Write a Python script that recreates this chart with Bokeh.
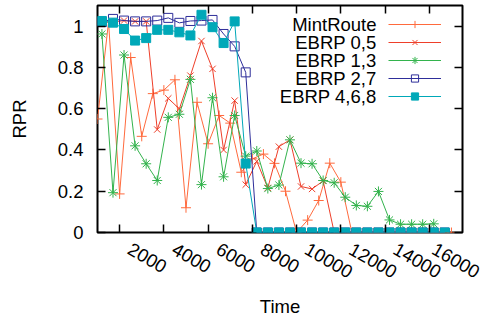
import math
from bokeh.plotting import figure
from bokeh.models import Range1d, FixedTicker, LinearAxis, Legend, LegendItem, Label
from bokeh.core.properties import value
from bokeh.embed import file_html
from bokeh.resources import INLINE

# ---------------- data ----------------
time_mint = [1000, 1500, 2000, 2500, 3000, 3500, 4000, 4500, 5000, 5500, 6000,
             6500, 7000, 7500, 8000, 8500, 9000, 9500, 10000, 10500, 11000,
             11500, 12000, 12500, 13000, 13500, 14000, 14500, 15000, 15500,
             16000, 16500, 17000]
mintroute = [0.55, 1.02, 0.187, 0.848, 0.466, 0.673, 0.69, 0.74, 0.12, 0.631,
             0.43, 0.567, 0.53, 0.292, 0.357, 0.38, 0.335, 0.2, 0.0, 0.06,
             0.155, 0.336, 0.244, 0.0, 0.0, 0.0, 0.0, 0.0, 0.0, 0.0, 0.0,
             0.0, 0.0]

time_ebrp = [1200, 1700, 2200, 2700, 3200, 3700, 4200, 4700, 5200, 5700, 6200,
             6700, 7200, 7700, 8200, 8700, 9200, 9700, 10200, 10700, 11200,
             11700, 12200, 12700, 13200, 13700, 14200, 14700, 15200, 15700,
             16200, 16700]
ebrp_05 = [1.02, 1.02, 1.027, 1.023, 1.023, 0.499, 0.65, 0.599, 0.76, 0.928,
           0.793, 0.40, 0.639, 0.232, 0.345, 0.216, 0.416, 0.449, 0.223,
           0.211, 0.25, 0.0, 0.0, 0.0, 0.0, 0.0, 0.0, 0.0, 0.0, 0.0, 0.0, 0.0]

time_ebrp13 = [1200, 1700, 2200, 2700, 3200, 3700, 4200, 4700, 5200, 5700,
               6200, 6700, 7200, 7700, 8200, 8700, 9200, 9700, 10200, 10700,
               11200, 11700, 12200, 12700, 13200, 13700, 14200, 14700, 15200,
               15700, 16200]
ebrp_13 = [0.962, 0.193, 0.86, 0.42, 0.333, 0.252, 0.558, 0.573, 0.742, 0.232,
           0.653, 0.27, 0.567, 0.37, 0.395, 0.213, 0.23, 0.449, 0.336, 0.333,
           0.252, 0.241, 0.171, 0.131, 0.127, 0.199, 0.061, 0.04, 0.04, 0.04,
           0.042]

ebrp_27 = [1.02, 1.035, 1.027, 1.023, 1.023, 1.027, 1.04, 1.016, 1.025, 1.027,
           1.03, 0.962, 0.902, 0.776, 0.0, 0.0, 0.0, 0.0, 0.0, 0.0, 0.0, 0.0,
           0.0, 0.0, 0.0, 0.0, 0.0, 0.0, 0.0, 0.0, 0.0, 0.0]

ebrp_468 = [1.025, 1.017, 0.986, 0.93, 0.942, 0.982, 0.982, 0.97, 0.955, 1.055,
            0.995, 0.918, 1.023, 0.334, 0.0, 0.0, 0.0, 0.0, 0.0, 0.0, 0.0, 0.0,
            0.0, 0.0, 0.0, 0.0, 0.0, 0.0, 0.0, 0.0, 0.0, 0.0]

series_names = ["MintRoute", "EBRP 0,5", "EBRP 1,3", "EBRP 2,7", "EBRP 4,6,8"]
x_ticks = [2000, 4000, 6000, 8000, 10000, 12000, 14000, 16000]
y_ticks = [0, 0.2, 0.4, 0.6, 0.8, 1]
y_tick_labels = ["0", "0.2", "0.4", "0.6", "0.8", "1"]
x_start, x_end = 1000, 17500
y_start, y_end = 0, 1.1

# ---------------- style ----------------
FONT = "Liberation Sans"
FS = "18.5px"
colors = ["#ff6a3d", "#ee3f2a", "#33b34d", "#2e2e9a", "#00a8b8"]

FRAME_W = 365   # plot-area width in px
FRAME_H = 227   # plot-area height in px
LABEL_SHIFT_PX = 10  # rotated tick labels start just right of their tick

p = figure(width=481, height=320, output_backend="svg", toolbar_location=None,
           x_range=Range1d(x_start, x_end), y_range=Range1d(y_start, y_end),
           min_border_left=97, min_border_right=19, min_border_top=5,
           min_border_bottom=88)
p.grid.visible = False
p.outline_line_color = "black"
p.outline_line_width = 2
p.background_fill_color = "white"
p.border_fill_color = "white"

def style_axis(ax, ticks, show_labels):
    ax.ticker = FixedTicker(ticks=ticks)
    ax.axis_line_color = None
    ax.major_tick_in = 8
    ax.major_tick_out = 0
    ax.major_tick_line_color = "black"
    ax.major_tick_line_width = 1.5
    ax.minor_tick_line_color = None
    ax.major_label_text_font = FONT
    ax.major_label_text_color = "black"
    ax.axis_label_text_font = FONT
    ax.axis_label_text_font_style = "normal"
    ax.axis_label_text_color = "black"
    ax.axis_label_text_font_size = FS
    if show_labels:
        ax.major_label_text_font_size = FS
    else:
        ax.major_label_overrides = {t: "" for t in ticks}
        ax.major_label_text_color = None
        ax.major_label_text_font_size = "1px"
        ax.major_label_standoff = 0
        ax.axis_label_standoff = 0

# bottom axis: tick marks only
xb = p.below[0]
style_axis(xb, x_ticks, False)

# second bottom axis: rotated tick labels (range offset so each label
# begins just right of its tick, as in the original) + axis title
shift = LABEL_SHIFT_PX * (x_end - x_start) / FRAME_W
p.extra_x_ranges = {"lab": Range1d(x_start - shift, x_end - shift)}
xlab = LinearAxis(x_range_name="lab")
style_axis(xlab, x_ticks, True)
xlab.major_tick_in = 0
xlab.major_tick_line_color = None
xlab.major_label_orientation = -math.pi / 6
xlab.major_label_standoff = 15
xlab.axis_label = "Time"
xlab.axis_label_standoff = 9
p.add_layout(xlab, "below")

yl = p.left[0]
style_axis(yl, y_ticks, True)
yl.major_label_overrides = {t: s for t, s in zip(y_ticks, y_tick_labels)}
yl.major_label_standoff = 14
yl.axis_label = "RPR"
yl.axis_label_standoff = 25

xt = LinearAxis()
style_axis(xt, x_ticks, False)
p.add_layout(xt, "above")
yr = LinearAxis()
style_axis(yr, y_ticks, False)
p.add_layout(yr, "right")

# ---------------- series ----------------
xs = [time_mint, time_ebrp, time_ebrp13, time_ebrp, time_ebrp]
ys = [mintroute, ebrp_05, ebrp_13, ebrp_27, ebrp_468]
markers = ["cross", "x", "asterisk", "square", "square"]
sizes = [10, 9, 10, 9, 9]
fills = [None, None, None, None, colors[4]]

items = []
for x, y, c, m, s, f in zip(xs, ys, colors, markers, sizes, fills):
    ln = p.line(x, y, line_color=c, line_width=1)
    sc = p.scatter(x, y, marker=m, size=s, line_color=c, line_width=1,
                   fill_color=f)
    items.append(LegendItem(label=value(" "), renderers=[ln, sc]))

legend = Legend(items=items, location="top_right", glyph_width=53,
                glyph_height=18, label_height=18, label_width=11,
                label_standoff=0, spacing=0, padding=0, margin=10,
                background_fill_alpha=0, border_line_color=None,
                label_text_font_size="1px")
p.add_layout(legend)

# legend texts sit to the left of their samples (gnuplot style)
for k, name in enumerate(series_names):
    p.add_layout(Label(x=279, y=FRAME_H - 19 - 18 * k, x_units="screen",
                       y_units="screen", text=name, text_align="right",
                       text_baseline="middle", text_font=FONT,
                       text_font_size=FS, text_color="black"))

open("out.html", "w").write(file_html(p, INLINE))
